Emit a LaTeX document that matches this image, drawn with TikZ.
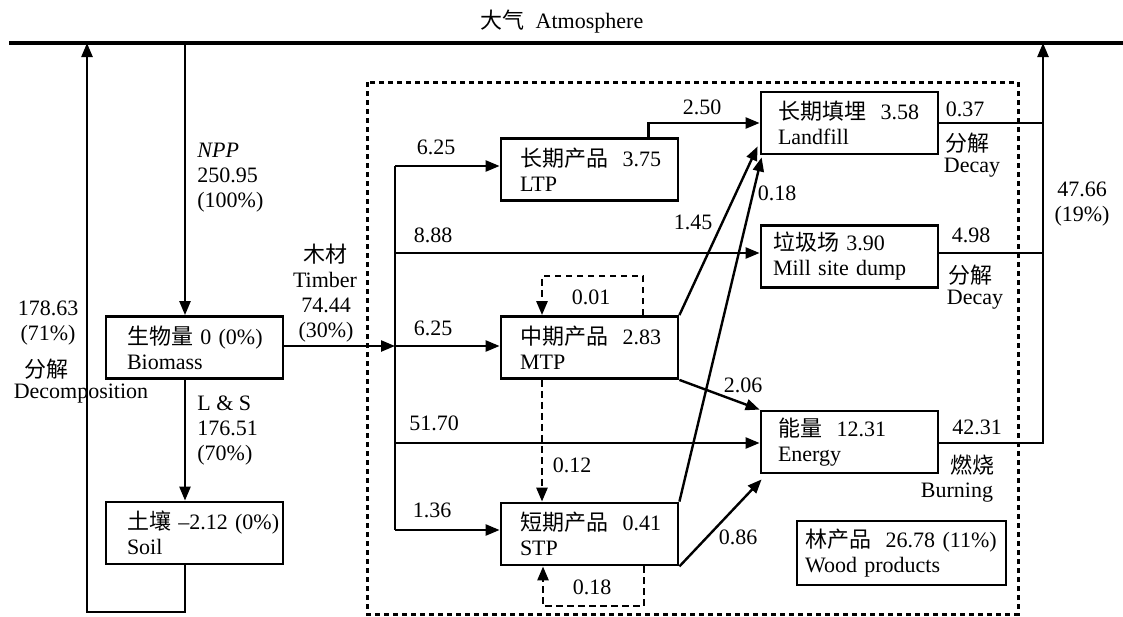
\documentclass[tikz,border=0pt]{standalone}
\usepackage{fontspec}
\setmainfont{Liberation Serif}
\newfontfamily\cjk{Noto Sans CJK SC}
\usetikzlibrary{arrows.meta,calc}
\hfuzz=200pt \hbadness=10000
\newcommand{\lbl}{\fontsize{11pt}{12.5pt}\selectfont}
\tikzset{
  box/.style={draw, line width=1.4pt, minimum height=31pt, inner ysep=0pt, align=left, font=\lbl},
  lab/.style={inner sep=0pt, font=\lbl, align=center},
  arr/.style={line width=1.2pt, -{Triangle[length=7pt,width=5.5pt]}},
  plain/.style={line width=1.2pt},
  dashloop/.style={line width=1.3pt, dash pattern=on 3.3pt off 2.2pt, -{Triangle[length=7pt,width=5.5pt]}},
  dotbox/.style={line width=1.5pt, dash pattern=on 2.3pt off 2.2pt},
  atmline/.style={line width=1.6pt}
}
\begin{document}
\begin{tikzpicture}[x=0.5pt,y=-0.5pt]
\useasboundingbox (0,0) rectangle (1123,616);

% title and atmosphere line
\node[lab] (title) at (562,22) {{\cjk 大气}~~Atmosphere};
\coordinate (atmL) at (9,43);
\coordinate (atmR) at (1123,43);
\draw[atmline] (atmL) -- (atmR);

% dotted wood-product boundary
\draw[dotbox] (367,82) rectangle (1018,614);

% boxes
\node[box, inner xsep=10.5pt, text width=67.5pt] (bio) at (194.5,347.5) {\mbox{{\cjk 生物量}~0~(0\%)}\\Biomass};
\node[box, inner xsep=10.5pt, text width=67.5pt] (soil) at (194.5,533) {\mbox{{\cjk 土壤}~–2.12~(0\%)}\\Soil};
\node[box, inner xsep=9.5pt, text width=69.5pt] (ltp) at (589.5,169.5) {\mbox{{\cjk 长期产品}~~3.75}\\LTP};
\node[box, inner xsep=9.5pt, text width=69.5pt] (mtp) at (589.5,347.5) {\mbox{{\cjk 中期产品}~~2.83}\\MTP};
\node[box, inner xsep=9.5pt, text width=69.5pt] (stp) at (589.5,534) {\mbox{{\cjk 短期产品}~~0.41}\\STP};
\node[box, inner xsep=8.5pt, text width=71.5pt] (land) at (849.5,123) {\mbox{{\cjk 长期填埋}~~3.58}\\Landfill};
\node[box, inner xsep=6pt, text width=76.5pt] (mill) at (849.5,256.5) {\mbox{{\cjk 垃圾场}~3.90}\\Mill site dump};
\node[box, inner xsep=8.5pt, text width=71.5pt] (energy) at (849.5,442) {\mbox{{\cjk 能量}~~12.31}\\Energy};
\node[box, inner xsep=4pt, text width=96.5pt, minimum height=32pt] (wood) at (901.5,553) {\mbox{{\cjk 林产品}~~26.78~(11\%)}\\Wood products};

% NPP and litter
\coordinate (npp) at (185,43);
\draw[arr] (npp) -- (npp |- bio.north);
\draw[arr] (bio.south -| npp) -- (soil.north -| npp);
\coordinate (decB) at (87,612);
\coordinate (decT) at (87,43);
\draw[arr] (soil.south -| npp) |- (decB) -- (decT);

% timber trunk
\coordinate (trunk) at (395,346);
\coordinate (trT) at (395,166);
\coordinate (tr2) at (395,253);
\coordinate (tr4) at (395,443);
\coordinate (trB) at (395,530);
\draw[arr] (bio.east |- trunk) -- (trunk);
\draw[plain] (trT) -- (trB);
\draw[arr] (trT) -- (trT -| ltp.west);
\draw[arr] (tr2) -- (tr2 -| mill.west);
\draw[arr] (trunk) -- (trunk -| mtp.west);
\draw[arr] (tr4) -- (tr4 -| energy.west);
\draw[arr] (trB) -- (trB -| stp.west);

% product flows
\draw[arr] ([xshift=-15.5pt]ltp.north east) |- (land.west);
\draw[arr] (mtp.north east) -- ([xshift=-1pt,yshift=4.5pt]land.south west);
\draw[arr] (stp.north east) -- ([xshift=1pt,yshift=-1pt]land.south west);
\draw[arr] (mtp.south east) -- (energy.north west);
\draw[arr] (stp.south east) -- ([xshift=1pt,yshift=-2.5pt]energy.south west);

% dashed loops
\coordinate (mlA) at (643,276);
\coordinate (mlB) at (542,276);
\draw[dashloop] (mtp.north -| mlA) -- (mlA) -- (mlB) -- (mlB |- mtp.north);
\draw[dashloop] (mtp.south -| mlB) -- (stp.north -| mlB);
\coordinate (slA) at (644,606);
\coordinate (slB) at (543,606);
\draw[dashloop] (stp.south -| slA) -- (slA) -- (slB) -- (slB |- stp.south);

% release to atmosphere
\coordinate (rT) at (1043,43);
\draw[plain] (land.east) -- (land.east -| rT);
\draw[plain] (mill.east |- tr2) -- (tr2 -| rT);
\draw[arr] (energy.east |- tr4) -| (rT);

% labels
\node[lab, anchor=west, align=left] (nppl) at (197,178) {\textit{NPP}\\250.95\\(100\%)};
\node[lab] (decv) at (48,323.5) {178.63\\(71\%)};
\node[lab] (deczh) at (47,369) {\cjk 分解};
\node[lab] (decen) at (81,394) {Decomposition};
\node[lab, anchor=west, align=left] (lsl) at (197,431) {L \& S\\176.51\\(70\%)};
\node[lab] (timb) at (325,265.5) {{\cjk 木材}\\Timber};
\node[lab] (timv) at (326,320.5) {74.44\\(30\%)};
\node[lab] (l1) at (436,147) {6.25};
\node[lab] (l2) at (433,235) {8.88};
\node[lab] (l3) at (433,328) {6.25};
\node[lab] (l4) at (434,423) {51.70};
\node[lab] (l5) at (432,510) {1.36};
\node[lab] (l6) at (702,107) {2.50};
\node[lab] (l7) at (693,222) {1.45};
\node[lab] (l8) at (777,193) {0.18};
\node[lab] (l9) at (591,297) {0.01};
\node[lab] (l10) at (743,385) {2.06};
\node[lab] (l11) at (572,465) {0.12};
\node[lab] (l12) at (738,537) {0.86};
\node[lab] (l13) at (592,587) {0.18};
\node[lab] (r1) at (965,109) {0.37};
\node[lab] (r1z) at (967,143) {\cjk 分解};
\node[lab] (r1e) at (972,168) {Decay};
\node[lab] (r2) at (971,235) {4.98};
\node[lab] (r2z) at (970,275) {\cjk 分解};
\node[lab] (r2e) at (975,300) {Decay};
\node[lab] (r3) at (977,427) {42.31};
\node[lab] (r3z) at (972,465) {\cjk 燃烧};
\node[lab] (r3e) at (957,493) {Burning};
\node[lab] (tot) at (1082,204) {47.66\\(19\%)};
\end{tikzpicture}
\end{document}
